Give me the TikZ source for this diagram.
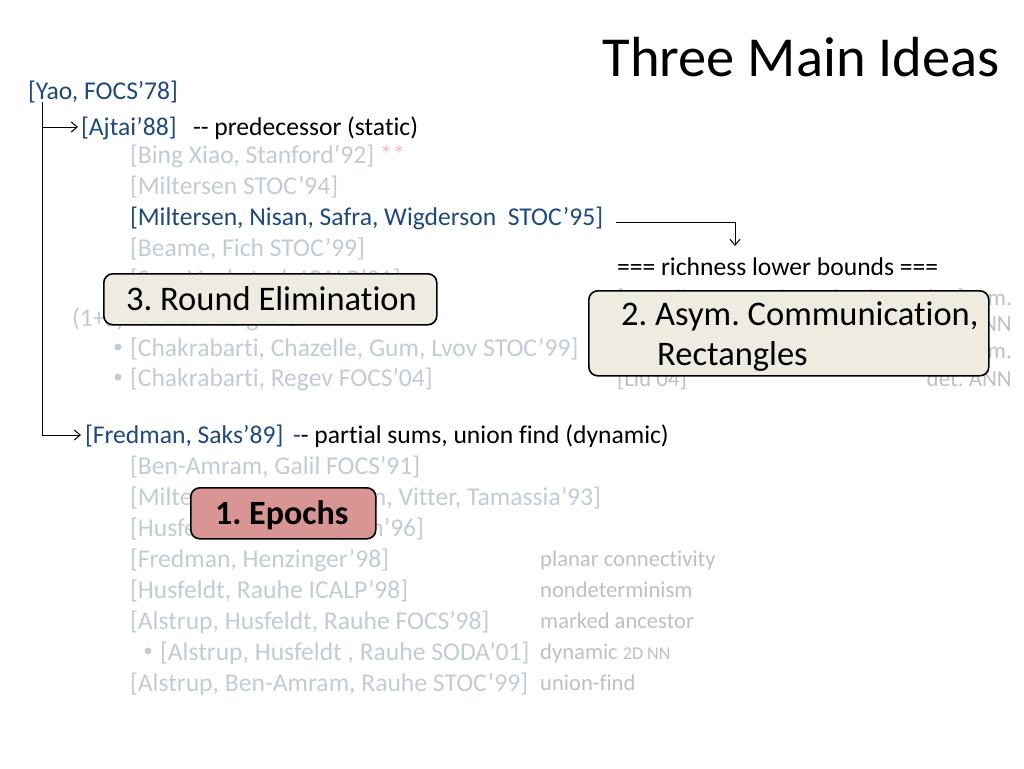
\documentclass[tikz,border=0pt]{standalone}
\usepackage{fontspec}
\setmainfont[Ligatures=NoCommon]{Carlito}
\usetikzlibrary{arrows.meta}
\definecolor{dkblue}{HTML}{1F497D}
\definecolor{fade}{HTML}{C3CBD6}
\definecolor{fadegray}{HTML}{C0C0C0}
\definecolor{fadepink}{HTML}{F2B8B8}
\definecolor{beige}{HTML}{EEECE1}
\definecolor{epoch}{HTML}{D99594}
\tikzset{
  txt/.style={anchor=base west, inner sep=0pt, outer sep=0pt, font=\fontsize{25.6}{30}\selectfont},
  reftxt/.style={txt, text=dkblue},
  fadetxt/.style={txt, text=fade},
  bul/.style={circle, fill=fade, inner sep=0pt, minimum size=7pt},
  lbl/.style={anchor=base west, inner sep=0pt, font=\fontsize{22.6}{27}\selectfont, text=fadegray},
  rlbl/.style={anchor=base east, inner sep=0pt, font=\fontsize{23}{27}\selectfont, text=fadegray},
  idea/.style={draw=black, line width=1.6pt, rounded corners=9pt, anchor=north west, inner sep=0pt},
  ideatxt/.style={anchor=base west, inner sep=0pt, font=\fontsize{34.5}{40}\selectfont},
  arr/.style={line width=1pt, -{Straight Barb[length=6pt,width=10pt]}},
}
\begin{document}
\frenchspacing
\begin{tikzpicture}[x=1pt,y=-1pt]
\useasboundingbox[fill=white] (0,0) rectangle (1024,768);
% title
\node[anchor=base east, inner sep=0pt, font=\fontsize{56.5}{64}\selectfont] (title) at (1000,77) {Three Main Ideas};
% top tree
\node[reftxt] (yao) at (28,99) {[Yao, FOCS’78]};
\node[reftxt] (ajtai) at (81,135) {[Ajtai’88]};
\node[txt] (pred) at (193,135) {-{}- predecessor (static)};
\node[fadetxt] (bing) at (130,163) {[Bing Xiao, Stanford’92] \textcolor{fadepink}{**}};
\node[fadetxt] (milt94) at (130,194) {[Miltersen STOC’94]};
\node[reftxt] (mnsw) at (130,225) {[Miltersen, Nisan, Safra, Wigderson\ \ STOC’95]};
\node[fadetxt] (beame) at (130,256) {[Beame, Fich STOC’99]};
\node[fadetxt] (sen) at (130,287) {[Sen, Venkatesh ICALP’01]};
\node[fadetxt] (nn) at (72,326) {(1+$\varepsilon$) nearest neighbor};
\node[bul] (bu1) at (118,347) {};
\node[fadetxt] (ccgl) at (130,356) {[Chakrabarti, Chazelle, Gum, Lvov STOC’99]};
\node[bul] (bu2) at (118,377) {};
\node[fadetxt] (cr) at (130,386) {[Chakrabarti, Regev FOCS’04]};
% richness
\node[txt] (rich) at (617,275) {=== richness lower bounds ===};
\node[lbl, font=\fontsize{23}{27}\selectfont] (r1l) at (617,305) {[Borodin, Ostrovsky, Rabani STOC’99]};
\node[rlbl] (r1r) at (1012,305) {part. m.};
\node[lbl, font=\fontsize{23}{27}\selectfont] (r2l) at (617,331) {[Barkol, Rabani STOC’00]};
\node[rlbl] (r2r) at (1012,331) {rand. NN};
\node[lbl, font=\fontsize{23}{27}\selectfont] (r3l) at (617,358) {[Jayram, Khot, Kumar, Rabani]};
\node[rlbl] (r3r) at (1012,358) {part. m.};
\node[lbl, font=\fontsize{23}{27}\selectfont] (r4l) at (617,386) {[Liu 04]};
\node[rlbl] (r4r) at (1012,386) {det. ANN};
% bottom tree
\node[reftxt] (fs) at (85,443) {[Fredman, Saks’89]};
\node[txt] (psum) at (293,443) {\textcolor{dkblue}{-}-{} partial sums, union find (dynamic)};
\node[fadetxt] (bag) at (130,474) {[Ben-Amram, Galil FOCS’91]};
\node[fadetxt] (msvt) at (130,505) {[Miltersen, Subramanian, Vitter, Tamassia’93]};
\node[fadetxt] (hrs) at (130,536) {[Husfeldt, Rauhe, Skyum’96]};
\node[fadetxt] (fh) at (130,567) {[Fredman, Henzinger’98]};
\node[fadetxt] (hr) at (130,598) {[Husfeldt, Rauhe ICALP’98]};
\node[fadetxt] (ahr) at (130,629) {[Alstrup, Husfeldt, Rauhe FOCS’98]};
\node[bul] (bu3) at (148,651) {};
\node[fadetxt] (ahr2) at (160,660) {[Alstrup, Husfeldt , Rauhe SODA’01]};
\node[fadetxt] (abr) at (130,691) {[Alstrup, Ben-Amram, Rauhe STOC’99]};
\node[lbl] (l1) at (540,566) {planar connectivity};
\node[lbl] (l2) at (540,597) {nondeterminism};
\node[lbl] (l3) at (540,628) {marked ancestor};
\node[lbl] (l4) at (540,659) {dynamic {\fontsize{18}{20}\selectfont 2D NN}};
\node[lbl] (l5) at (540,690) {union-find};
% idea boxes
\node[idea, fill=beige, minimum width=333pt, minimum height=51pt] (b3) at (103,273) {};
\node[ideatxt] (b3t) at (126,310) {3. Round Elimination};
\node[idea, fill=beige, minimum width=400pt, minimum height=85pt] (b2) at (588,290) {};
\node[ideatxt] (b2t) at (621,325) {2. Asym. Communication,};
\node[ideatxt] (b2u) at (657,365) {Rectangles};
\node[idea, fill=epoch, minimum width=185pt, minimum height=51pt] (b1) at (190,487) {};
\node[ideatxt, font=\bfseries\fontsize{34}{40}\selectfont] (b1t) at (215,524) {1. Epochs};
% connectors
\coordinate (top) at (42,102);
\coordinate (c1) at (42,127);
\coordinate (c2) at (42,435);
\draw[line width=1pt] (top) -- (c2);
\draw[arr] (c1) -- ([xshift=-3pt]ajtai.west |- c1);
\draw[arr] (c2) -- ([xshift=-4pt]fs.west |- c2);
\coordinate (m1) at (616,222);
\coordinate (m2) at (735,222);
\coordinate (m3) at (735,246);
\draw[arr] (m1) -- (m2) -- (m3);
\end{tikzpicture}
\end{document}
